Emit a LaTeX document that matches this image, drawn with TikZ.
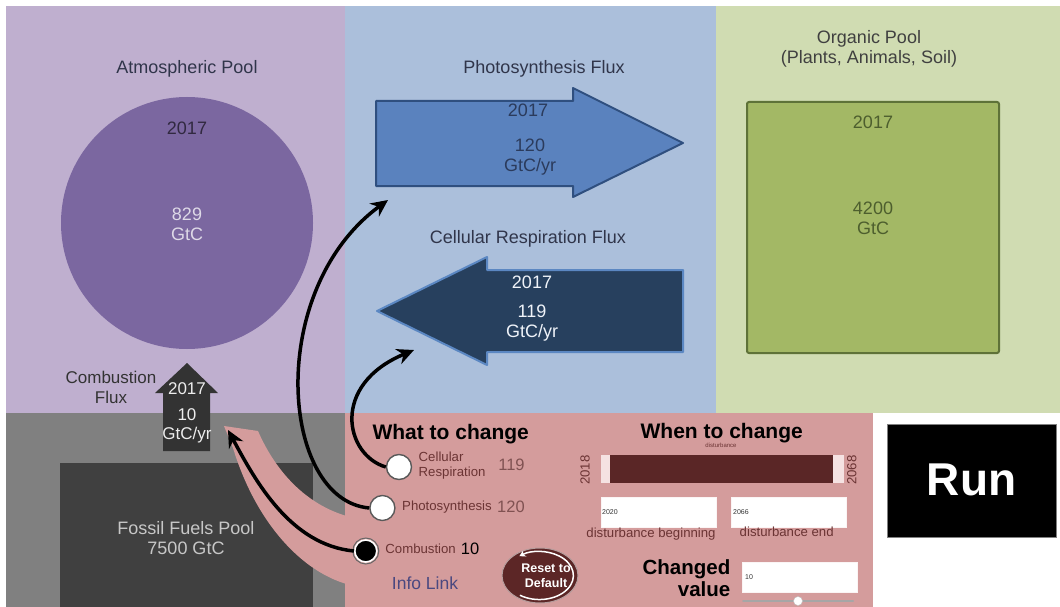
\documentclass[tikz,border=0pt]{standalone}
\usepackage{fontspec}
\setmainfont{Liberation Sans}
\usetikzlibrary{arrows.meta,calc,shapes.geometric}
\definecolor{atmbg}{HTML}{BFAFCF}
\definecolor{phobg}{HTML}{ABBFDB}
\definecolor{orgbg}{HTML}{D0DCB2}
\definecolor{fosbg}{HTML}{808080}
\definecolor{ctlbg}{HTML}{D49C9C}
\definecolor{atmfill}{HTML}{7B67A0}
\definecolor{orgfill}{HTML}{A3B865}
\definecolor{orgline}{HTML}{5E7238}
\definecolor{orgtext}{HTML}{4D5E2E}
\definecolor{fosfill}{HTML}{404040}
\definecolor{phofill}{HTML}{5A82BE}
\definecolor{pholine}{HTML}{2F4F7F}
\definecolor{photext}{HTML}{2B3B5C}
\definecolor{resfill}{HTML}{27405E}
\definecolor{resline}{HTML}{5B87C2}
\definecolor{comfill}{HTML}{333333}
\definecolor{titletext}{HTML}{30354A}
\definecolor{ctltext}{HTML}{6B3434}
\definecolor{ctlnum}{HTML}{805252}
\definecolor{sliderdark}{HTML}{5A2626}
\definecolor{sliderlight}{HTML}{F5E2E2}
\definecolor{resetfill}{HTML}{5C2626}
\definecolor{infolink}{HTML}{4A4880}
\tikzset{
  txt/.style={inner sep=0pt, align=center},
  title/.style={txt, text=titletext, font=\fontsize{18}{20}\selectfont},
  big/.style={txt, font=\fontsize{18}{20}\selectfont},
  small/.style={txt, text=ctltext, font=\fontsize{13.2}{15}\selectfont},
  num/.style={txt, text=ctlnum, font=\fontsize{16.5}{18}\selectfont},
  head/.style={txt, text=black, font=\fontsize{21}{23}\bfseries\selectfont},
  radio/.style={circle, draw=black!65, line width=1.4pt, fill=white, minimum size=25pt, inner sep=0pt},
  inbox/.style={fill=white, draw=white!90!ctlbg, inner sep=0pt},
  tiny/.style={txt, text=black!80, font=\fontsize{7}{8}\selectfont},
  conn/.style={line width=3.5pt, -{Stealth[length=17pt,width=16pt]}},
}
\begin{document}
\begin{tikzpicture}[x=1pt,y=-1pt]
\useasboundingbox (0,0) rectangle (1060,607);
\fill[white] (0,0) rectangle (1060,607);
% panels
\fill[atmbg] (6,6) rectangle (345,413);
\fill[phobg] (345,6) rectangle (716,413);
\fill[orgbg] (716,6) rectangle (1060,413);
\fill[fosbg] (6,413) rectangle (345,607);
\fill[ctlbg] (345,413) rectangle (873,607);
% titles
\node[title] (atmtitle) at (187,69) {Atmospheric Pool};
\node[title] (photitle) at (544,69) {Photosynthesis Flux};
\node[title, text=black!75] (orgtitle) at (869,49) {Organic Pool\\(Plants, Animals, Soil)};
\node[title] (restitle) at (528,239) {Cellular Respiration Flux};
% atmospheric pool
\node[circle, fill=atmfill, minimum size=252pt, inner sep=0pt] (atm) at (187,223) {};
\node[big, text=black!60!atmfill] (atmyear) at (187,128) {2017};
\node[big, text=white!75!atmfill] (atmval) at (187,224) {829\\GtC};
% organic pool
\node[draw=orgline, line width=2pt, fill=orgfill, rounded corners=2pt, minimum width=252pt, minimum height=251pt, inner sep=0pt] (org) at (873,227.5) {};
\node[big, text=orgtext] (orgyear) at (873,122) {2017};
\node[big, text=orgtext] (orgval) at (873,218) {4200\\GtC};
% fossil pool
\node[fill=fosfill, minimum width=253pt, minimum height=144pt, inner sep=0pt, anchor=north west] (fos) at (60,463) {};
\node[big, text=white!78!black] (fosval) at (186,538) {Fossil Fuels Pool\\7500 GtC};
% photosynthesis arrow
\filldraw[fill=phofill, draw=pholine, line width=2pt, line join=round]
  (376,101) -- (573,101) -- (573,88) -- (683,143) -- (573,197) -- (573,186) -- (376,186) -- cycle;
\node[big, text=photext] (phoyear) at (528,110) {2017};
\node[big, text=photext] (phoval) at (530,157) {120\\GtC/yr};
\coordinate (phoin) at (388,200);
% respiration arrow
\filldraw[fill=resfill, draw=resline, line width=2pt, line join=round]
  (683,270) -- (487,270) -- (487,257) -- (377,311) -- (487,365) -- (487,352) -- (683,352) -- cycle;
\node[big, text=white!90!resline] (resyear) at (532,282) {2017};
\node[big, text=white!90!resline] (resval) at (532,323) {119\\GtC/yr};
\coordinate (resin) at (414,350);
% combustion arrow
\fill[comfill] (163,451) -- (163,393) -- (155,393) -- (187,363) -- (218,393) -- (210,393) -- (210,451) -- cycle;
\node[txt, text=white!93!black, font=\fontsize{17}{19}\selectfont] (comyear) at (187,389) {2017};
\node[txt, text=white!93!black, font=\fontsize{17}{19}\selectfont] (comval) at (187,426) {10\\GtC/yr};
\node[txt, text=black!80, font=\fontsize{17}{20}\selectfont] (comlab) at (111,387) {Combustion\\Flux};
\coordinate (comin) at (228,430);
% pink highlight band
\fill[ctlbg] (224,426) -- (258,431) .. controls (275,470) and (305,505) .. (350,517)
  -- (350,585) .. controls (300,572) and (255,520) .. (233,448) -- cycle;
% control panel: what to change
\node[head] (what) at (450.7,434) {What to change};
\node[radio] (rrad) at (399,467) {};
\node[radio] (prad) at (382.4,508) {};
\node[circle, fill=black, draw=white, line width=1.6pt, minimum size=22pt, inner sep=0pt] (crad) at (365.8,551) {};
\draw[black!60, line width=1pt] (crad.center) circle (13pt);
\node[small, anchor=west, align=left] (rlab) at (418.5,466) {Cellular\\Respiration};
\node[num] (rnum) at (511.5,465) {119};
\node[small] (plab) at (447,507) {Photosynthesis};
\node[num] (pnum) at (511,507) {120};
\node[small] (clab) at (420.6,549) {Combustion};
\node[num, text=black] (cnum) at (470,549) {10};
\node[txt, text=infolink, font=\fontsize{17.5}{19}\selectfont] (info) at (425,583) {Info Link};
% reset button
\node[ellipse, fill=resetfill, draw=white!55!resetfill, line width=1pt, minimum width=76pt, minimum height=55pt, inner sep=0pt] (reset) at (540,575.5) {};
\node[txt, text=white, font=\fontsize{12.5}{15}\bfseries\selectfont] (resettxt) at (546,576) {Reset to\\Default};
\draw[white, line width=1.5pt, -{Stealth[length=6pt,width=7pt]}] ($(reset.center)+(-20.1,19.7)$) arc[start angle=125, end angle=-126, x radius=34, y radius=24];
% when to change
\node[head] (when) at (721.7,433) {When to change};
\node[txt, text=ctltext, font=\fontsize{6}{7}\selectfont] (dist) at (721,445) {disturbance};
\node[fill=sliderlight, minimum width=243pt, minimum height=28pt, inner sep=0pt] (slbar) at (722.3,469) {};
\node[fill=sliderdark, minimum width=223pt, minimum height=28pt, inner sep=0pt] (slsel) at (721.7,469) {};
\node[small, rotate=90] (y0) at (585,470) {2018};
\node[small, rotate=90] (y1) at (851.7,470) {2068};
\node[inbox, minimum width=115pt, minimum height=30pt] (begbox) at (658.3,512) {};
\node[tiny, anchor=west] (begval) at (602,512) {2020};
\node[inbox, minimum width=115pt, minimum height=30pt] (endbox) at (788.6,512) {};
\node[tiny, anchor=west] (endval) at (733,512) {2066};
\node[small] (beglab) at (651,534) {disturbance beginning};
\node[small] (endlab) at (786.7,532) {disturbance end};
\node[txt, text=black, font=\fontsize{20.5}{22}\bfseries\selectfont, anchor=east, align=right] (chg) at (730.5,578) {Changed\\value};
\node[inbox, minimum width=115pt, minimum height=30pt] (valbox) at (799.2,577) {};
\node[tiny, anchor=west] (valval) at (745,577) {10};
\draw[black!35, line width=2pt, line cap=round] (743,601) -- (853,601);
\node[circle, fill=white, draw=gray!50, minimum size=9pt, inner sep=0pt] (knob) at (798,601) {};
% run button
\node[fill=black, draw=gray, minimum width=169pt, minimum height=113pt, inner sep=0pt] (run) at (971.5,480.5) {};
\node[txt, text=white, font=\fontsize{46}{48}\bfseries\selectfont] (runtxt) at (971.5,480) {Run};
% connectors
\draw[conn] (rrad.west) .. controls (345,455) and (330,385) .. (resin);
\draw[conn] (prad.west) .. controls (280,500) and (265,290) .. (phoin);
\draw[conn] (crad.west) .. controls (290,545) and (255,480) .. (comin);
\end{tikzpicture}
\end{document}
